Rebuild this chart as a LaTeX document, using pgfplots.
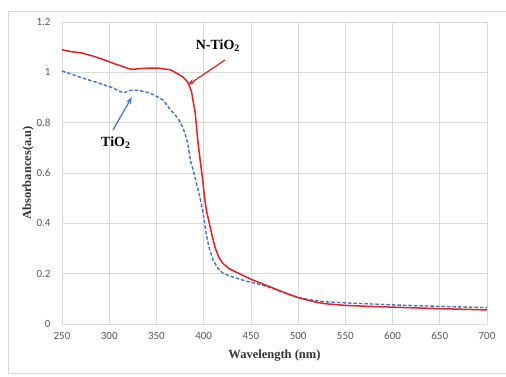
\documentclass[border=0pt]{standalone}
\usepackage{pgfplots}
\pgfplotsset{compat=1.18}
\usetikzlibrary{arrows.meta}
\usepackage{fontspec}
\setmainfont{Liberation Serif}
\newfontfamily\tickfont{Carlito}
\definecolor{ticktext}{RGB}{89,89,89}
\definecolor{gridc}{RGB}{217,217,217}
\definecolor{redline}{RGB}{226,32,38}
\definecolor{blueline}{RGB}{68,114,196}
\pgfplotstableread{
x y
250 1.090
260 1.082
271 1.077
285 1.062
295 1.049
305 1.035
313 1.025
320 1.015
325 1.012
333 1.015
342 1.017
352 1.017
365 1.010
372 0.995
378 0.982
383 0.962
387 0.925
391 0.840
394 0.720
397 0.630
399 0.572
401 0.500
403 0.450
406 0.400
409 0.350
412 0.305
416 0.265
420 0.242
427 0.220
435 0.205
445 0.187
450 0.178
460 0.163
470 0.148
480 0.133
490 0.118
500 0.105
510 0.095
520 0.086
530 0.080
550 0.074
575 0.070
600 0.067
650 0.061
700 0.056
}\ntio
\pgfplotstableread{
x y
250 1.005
260 0.993
272 0.977
285 0.962
301 0.942
310 0.927
315 0.918
320 0.925
325 0.930
333 0.927
343 0.918
350 0.905
357 0.890
364 0.855
370 0.830
375 0.805
380 0.760
383 0.720
386 0.650
389 0.610
391 0.580
395 0.520
399 0.450
403 0.350
406 0.300
410 0.254
415 0.222
420 0.203
428 0.190
435 0.182
445 0.170
456 0.161
470 0.145
485 0.125
500 0.105
510 0.098
520 0.092
530 0.088
550 0.084
600 0.076
650 0.070
700 0.065
}\tio
\begin{document}
\begin{tikzpicture}
\useasboundingbox (0pt,0pt) rectangle (506pt,376pt);
\begin{scope}
\clip (0pt,0pt) rectangle (506pt,376pt);
\draw[gridc, line width=0.8pt] (8pt,3pt) rectangle (530pt,365pt);
\end{scope}
\begin{axis}[
  at={(62pt,52pt)}, anchor=south west,
  scale only axis, width=425pt, height=302pt,
  xmin=250, xmax=700, ymin=0, ymax=1.2,
  xtick={250,300,...,700},
  ytick={0,0.2,...,1.2},
  yticklabels={0,0.2,0.4,0.6,0.8,1,1.2},
  grid=major,
  major grid style={gridc, line width=0.6pt},
  axis line style={draw=none},
  tick style={draw=none},
  ticklabel style={font=\tickfont\fontsize{11}{13}\selectfont, text=ticktext},
  /pgf/number format/assume math mode=true,
  xticklabel style={yshift=-5pt},
  yticklabel style={xshift=-8pt},
  xlabel={\textbf{Wavelength (nm)}},
  ylabel={\textbf{Absorbances(a.u)}},
  label style={font=\fontsize{12.5}{14}\selectfont, text=ticktext!60!black},
  xlabel style={yshift=-3pt},
  ylabel style={yshift=-4pt},
  clip=false,
]
\draw[gridc, line width=0.8pt] (axis cs:250,0) -- (axis cs:700,0);
\addplot[blueline, line width=1.4pt, dash pattern=on 3.5pt off 2pt] table[x=x,y=y] {\tio};
\addplot[redline, line width=1.5pt] table[x=x,y=y] {\ntio};
\node[font=\bfseries\fontsize{14}{16}\selectfont] at (axis cs:415,1.105) {N-TiO\textsubscript{2}};
\node[font=\bfseries\fontsize{14}{16}\selectfont] at (axis cs:307,0.722) {TiO\textsubscript{2}};
\draw[redline, line width=1.2pt, -{Stealth[length=7pt,width=5pt]}] (axis cs:422.6,1.049) -- (axis cs:383.4,0.950);
\draw[blueline, line width=1.2pt, -{Stealth[length=7pt,width=5pt]}] (axis cs:304,0.771) -- (axis cs:324,0.902);
\end{axis}
\end{tikzpicture}
\end{document}
